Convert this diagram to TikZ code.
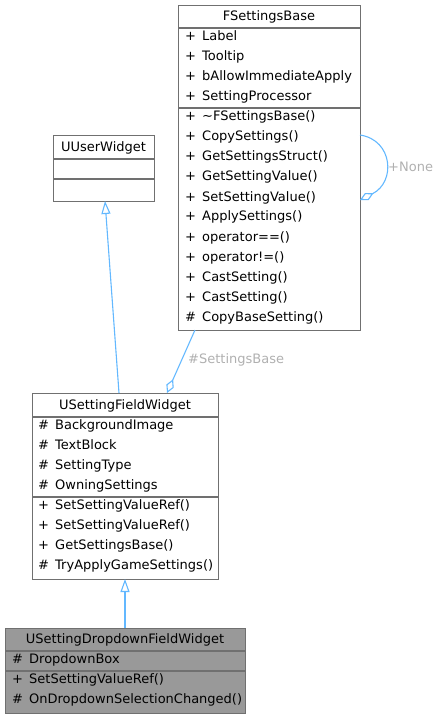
\documentclass[tikz,border=0pt]{standalone}
\usepackage{fontspec}
\setmainfont{DejaVu Sans}
\usetikzlibrary{arrows.meta}
\definecolor{edgeblue}{HTML}{63B8FF}
\definecolor{boxgray}{HTML}{707070}
\definecolor{labelgray}{HTML}{B0B0B0}
\definecolor{darkfill}{HTML}{999999}
\newcommand\mem[2]{\makebox[17pt][l]{#1}#2}
\begin{document}
\begin{tikzpicture}[x=1pt,y=-1pt, font=\fontsize{13}{15}\selectfont,
  box/.style={draw=boxgray, line width=1.4pt, inner sep=0pt, anchor=north west},
  sep/.style={draw=boxgray, line width=1.4pt},
  row/.style={anchor=base west, inner sep=0pt},
  ttl/.style={anchor=base, inner sep=0pt},
  edge/.style={draw=edgeblue, line width=1.1pt},
  inherit/.style={edge, -{Triangle[open,length=13pt,width=9pt]}},
  aggr/.style={edge, -{Diamond[open,length=15pt,width=8pt]}},
  elabel/.style={text=labelgray, inner sep=0pt}]
\useasboundingbox (0,0) rectangle (439,719);
% FSettingsBase
\node[box, minimum width=182pt, minimum height=325pt, fill=white] (fsb) at (178,5) {};
\draw[sep] (178,28) -- (360,28);
\draw[sep] (178,108) -- (360,108);
\node[ttl] (fsbt) at (269,21) {FSettingsBase};
\node[row] (f1) at (185,41) {\mem{+}{Label}};
\node[row] (f2) at (185,61) {\mem{+}{Tooltip}};
\node[row] (f3) at (185,81) {\mem{+}{bAllowImmediateApply}};
\node[row] (f4) at (185,101) {\mem{+}{SettingProcessor}};
\node[row] (f5) at (185,121) {\mem{+}{\textasciitilde FSettingsBase()}};
\node[row] (f6) at (185,141) {\mem{+}{CopySettings()}};
\node[row] (f7) at (185,161) {\mem{+}{GetSettingsStruct()}};
\node[row] (f8) at (185,181) {\mem{+}{GetSettingValue()}};
\node[row] (f9) at (185,201) {\mem{+}{SetSettingValue()}};
\node[row] (f10) at (185,221) {\mem{+}{ApplySettings()}};
\node[row] (f11) at (185,241) {\mem{+}{operator==()}};
\node[row] (f12) at (185,261) {\mem{+}{operator!=()}};
\node[row] (f13) at (185,281) {\mem{+}{CastSetting()}};
\node[row] (f14) at (185,301) {\mem{+}{CastSetting()}};
\node[row] (f15) at (185,321) {\mem{\#}{CopyBaseSetting()}};
% UUserWidget
\node[box, minimum width=101pt, minimum height=66pt, fill=white] (uuw) at (53,135) {};
\draw[sep] (53,159) -- (154,159);
\draw[sep] (53,179) -- (154,179);
\node[ttl] (uuwt) at (103.5,151.5) {UUserWidget};
% USettingFieldWidget
\node[box, minimum width=186pt, minimum height=186pt, fill=white] (fw) at (32,393) {};
\draw[sep] (32,417) -- (218,417);
\draw[sep] (32,497) -- (218,497);
\node[ttl] (fwt) at (125,409.5) {USettingFieldWidget};
\node[row] (w1) at (38,429.5) {\mem{\#}{BackgroundImage}};
\node[row] (w2) at (38,449.5) {\mem{\#}{TextBlock}};
\node[row] (w3) at (38,469.5) {\mem{\#}{SettingType}};
\node[row] (w4) at (38,489.5) {\mem{\#}{OwningSettings}};
\node[row] (w5) at (38,509.5) {\mem{+}{SetSettingValueRef()}};
\node[row] (w6) at (38,529.5) {\mem{+}{SetSettingValueRef()}};
\node[row] (w7) at (38,549.5) {\mem{+}{GetSettingsBase()}};
\node[row] (w8) at (38,569.5) {\mem{\#}{TryApplyGameSettings()}};
% USettingDropdownFieldWidget
\node[box, minimum width=240pt, minimum height=85pt, fill=darkfill] (dd) at (5,628) {};
\draw[sep] (5,651) -- (245,651);
\draw[sep] (5,671) -- (245,671);
\node[ttl] (ddt) at (125,643.5) {USettingDropdownFieldWidget};
\node[row] (d1) at (12,663.5) {\mem{\#}{DropdownBox}};
\node[row] (d2) at (12,683.5) {\mem{+}{SetSettingValueRef()}};
\node[row] (d3) at (12,703.5) {\mem{\#}{OnDropdownSelectionChanged()}};
% connectors
\coordinate (fwtop1) at (119,393);
\coordinate (uuwbot) at (105,201);
\draw[inherit] (fwtop1) -- (uuwbot);
\coordinate (ddtop) at (125,628);
\coordinate (fwbot) at (125,579);
\draw[inherit] (ddtop) -- (fwbot);
\coordinate (fsbbot) at (195,330);
\coordinate (fwtop2) at (167,393);
\draw[aggr] (fsbbot) -- (fwtop2);
\node[elabel, anchor=west] (l1) at (188,360) {\#SettingsBase};
\coordinate (selfa) at (360,135);
\coordinate (selfb) at (360,200);
\draw[aggr] (selfa) .. controls (393,140) and (396,182) .. (selfb);
\node[elabel, anchor=west] (l2) at (388,167) {+None};
\end{tikzpicture}
\end{document}
